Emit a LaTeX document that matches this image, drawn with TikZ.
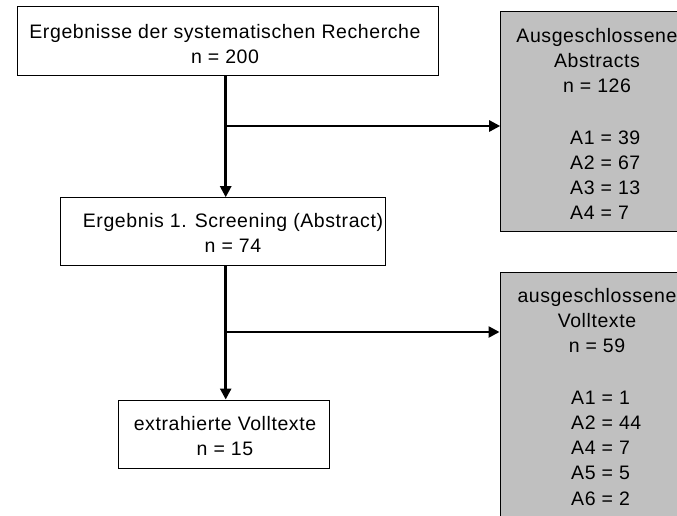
\documentclass[tikz,border=0pt]{standalone}
\usepackage{fontspec}
\setmainfont{Liberation Sans}[LetterSpace=3]
\usetikzlibrary{arrows.meta,calc}
\definecolor{panelgrey}{HTML}{C0C0C0}
\begin{document}
\begin{tikzpicture}[x=1pt,y=-1pt,
  box/.style={draw=black,line width=1pt,fill=white,rectangle,inner sep=0pt},
  greybox/.style={draw=black,line width=1pt,fill=panelgrey,rectangle,inner sep=0pt},
  txt/.style={inner sep=0pt,font=\fontsize{19.5}{25}\selectfont,align=center},
  ltxt/.style={inner sep=0pt,font=\fontsize{19.5}{25.2}\selectfont,align=left,anchor=west},
  arr/.style={line width=2.5pt,-{Triangle[length=11pt,width=11pt]}},
  link/.style={line width=2.5pt}]
\clip (0,0) rectangle (677,515);
\fill[white] (0,0) rectangle (677,515);

% main flow boxes
\node[box,minimum width=421pt,minimum height=69pt] (b1) at (227.5,40.5) {};
\node[box,minimum width=325pt,minimum height=68pt] (b2) at (223.2,231.7) {};
\node[box,minimum width=211pt,minimum height=68pt] (b3) at (223.5,434) {};

\node[txt] (t1) at (225,44.5) {Ergebnisse der systematischen Recherche\\n = 200};
\node[txt] (t2) at (233,233) {Ergebnis 1. Screening (Abstract)\\n = 74};
\node[txt] (t3) at (225,436.5) {extrahierte Volltexte\\n = 15};

% exclusion panels on the right
\node[greybox,minimum width=191.3pt,minimum height=220pt] (g1) at (596.35,121.7) {};
\node[greybox,minimum width=192pt,minimum height=258pt] (g2) at (596,401) {};

\node[txt] (h1) at (597,60.5) {Ausgeschlossene\\Abstracts\\n = 126};
\node[ltxt] (a1) at (570,175) {A1 = 39\\A2 = 67\\A3 = 13\\A4 = 7};
\node[txt] (h2) at (597,321) {ausgeschlossene\\Volltexte\\n = 59};
\node[ltxt] (a2) at (571,448) {A1 = 1\\A2 = 44\\A4 = 7\\A5 = 5\\A6 = 2};

% connectors
\coordinate (s1) at (225.7,126);
\coordinate (s2) at (225.7,332);
\draw[arr] (s1 |- b1.south) -- (s1 |- b2.north);
\draw[arr] (s1) -- (s1 -| g1.west);
\draw[arr] (s2 |- b2.south) -- (s2 |- b3.north);
\draw[arr] (s2) -- (s2 -| g2.west);
\end{tikzpicture}
\end{document}
